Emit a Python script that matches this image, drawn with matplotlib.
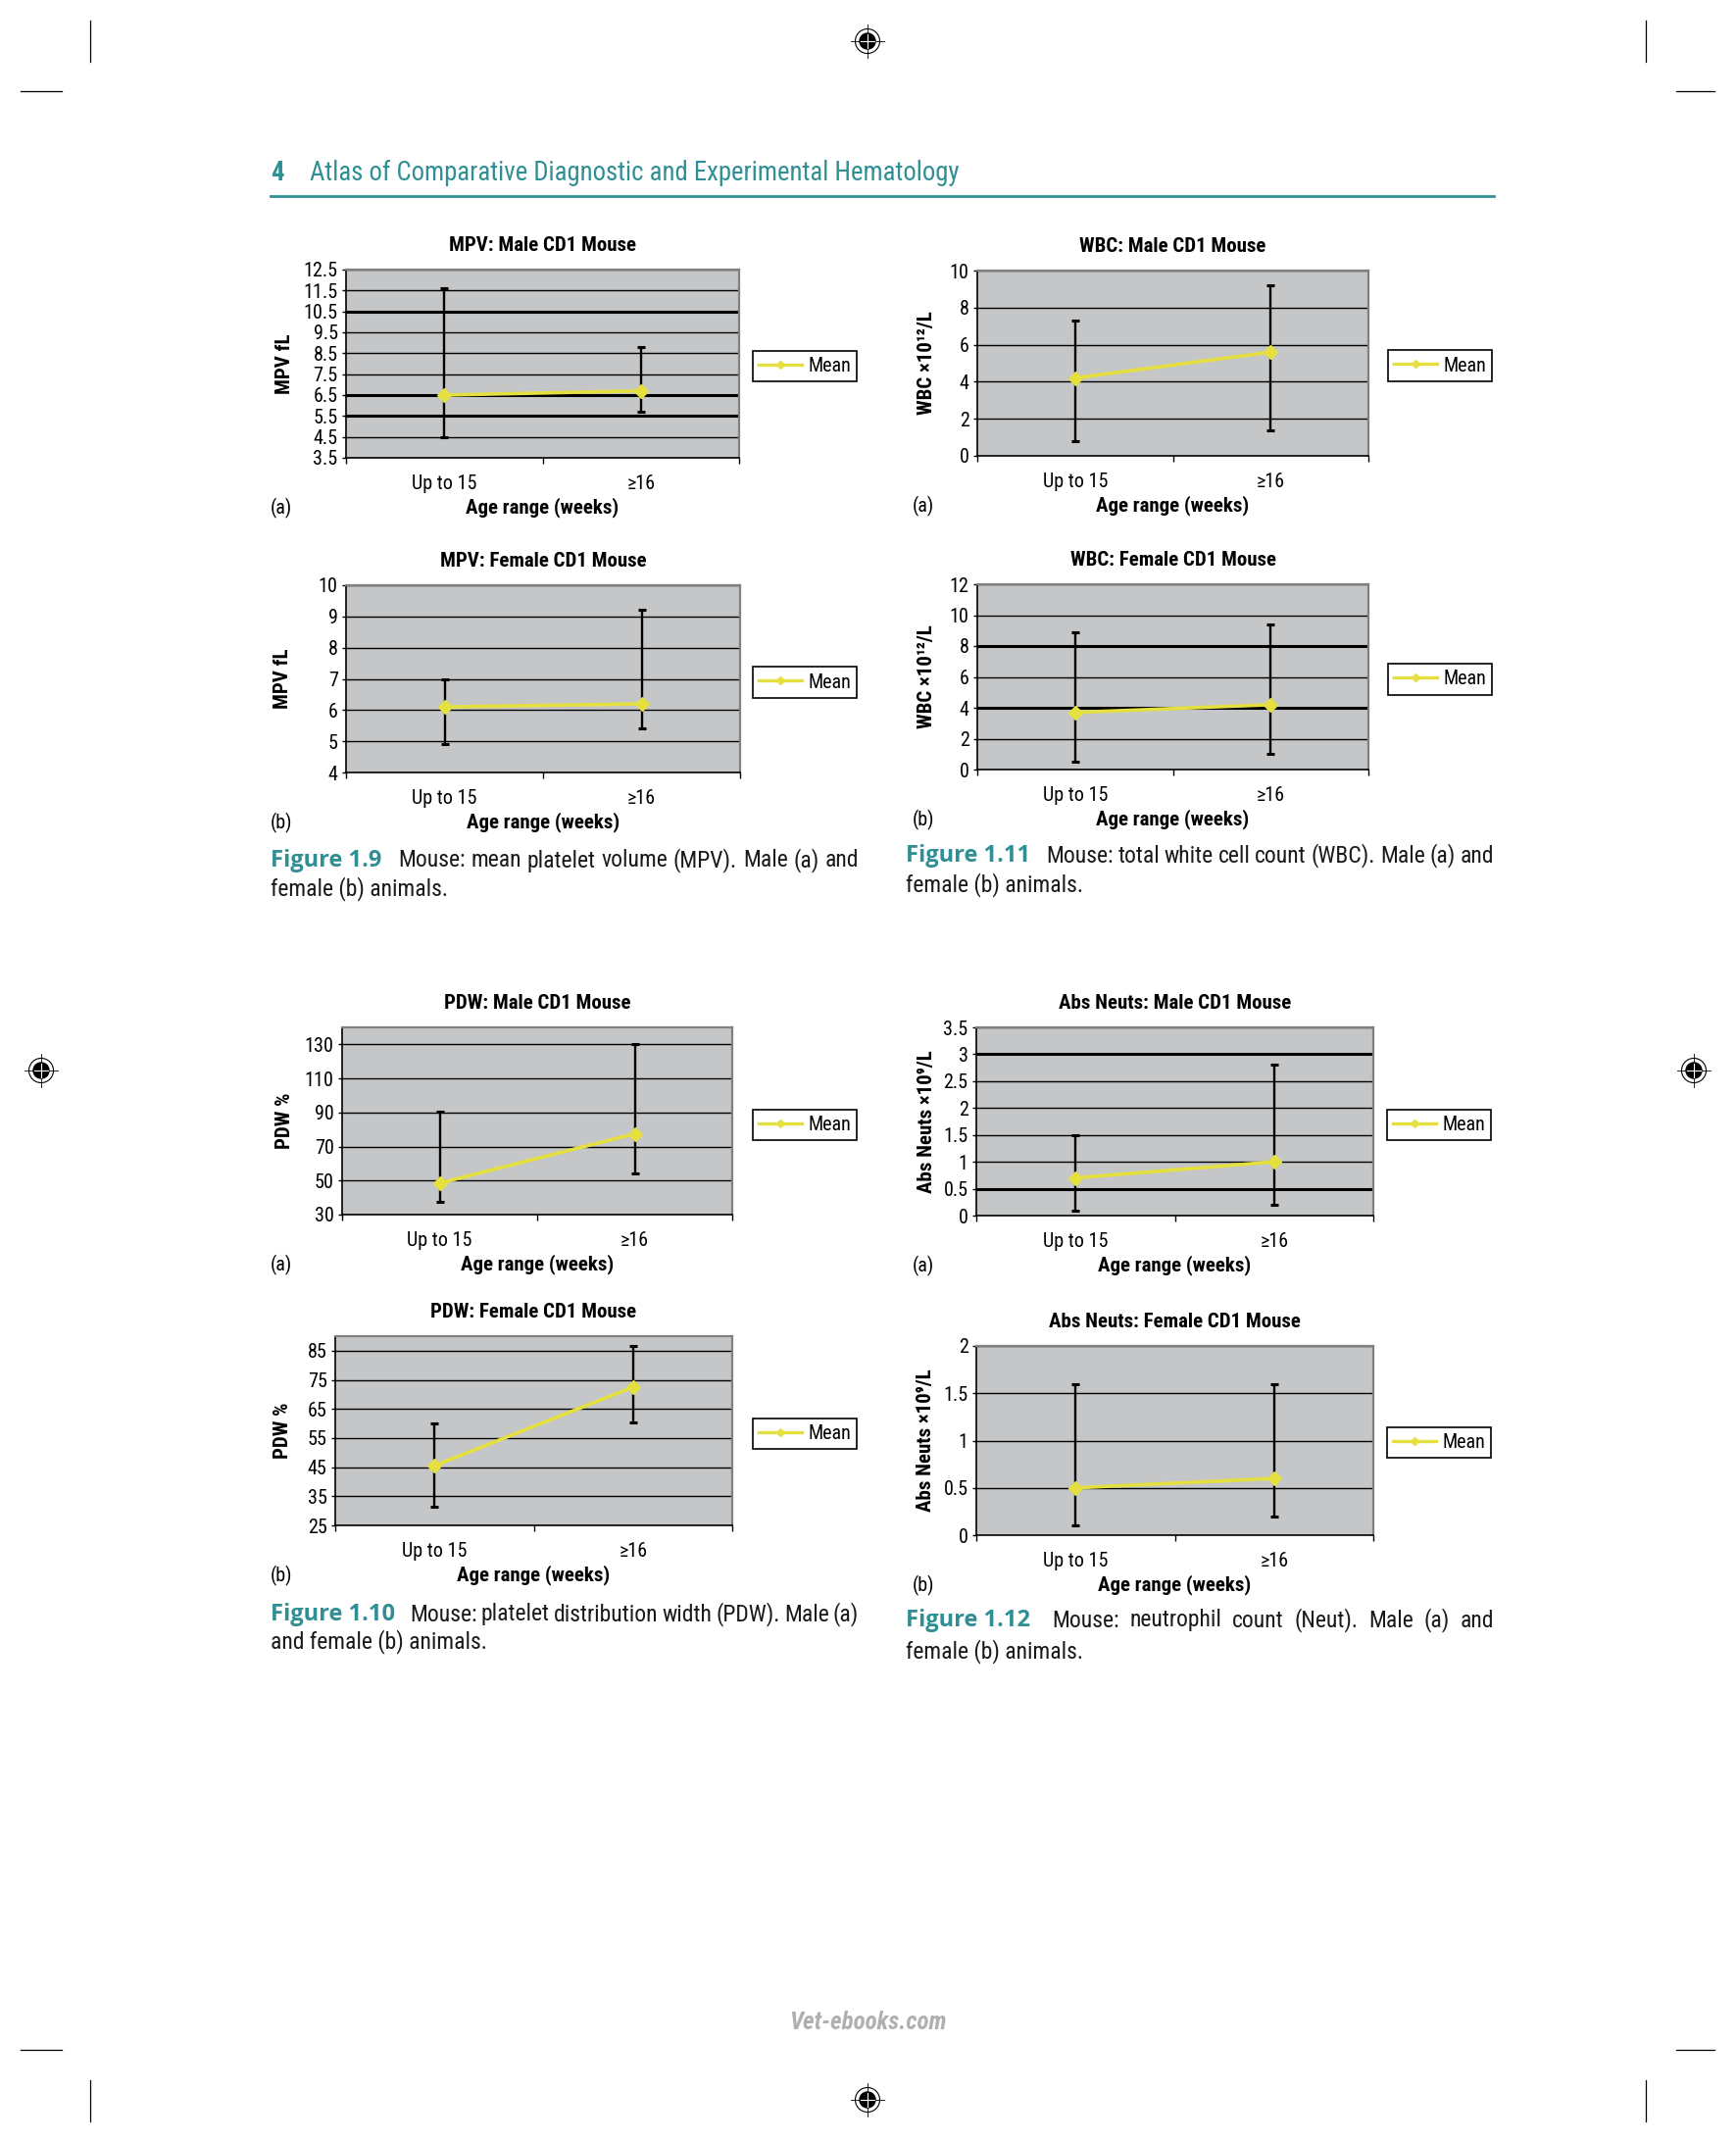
import matplotlib
matplotlib.use("Agg")
import matplotlib.pyplot as plt
from matplotlib import font_manager
from matplotlib.lines import Line2D
from matplotlib.patches import Circle
import numpy as np

W, H = 1771, 2184
DPI = 100

# the page is set in a condensed face; use one if the box has it
_names = {f.name for f in font_manager.fontManager.ttflist}
FONT = next((n for n in ["Roboto Condensed", "Liberation Sans Narrow", "DejaVu Sans Condensed",
                         "Noto Sans Condensed", "Open Sans Condensed"] if n in _names), None)
SCALE = 1.0
if FONT is None:
    FONT = "Liberation Sans"
    SCALE = 0.84
plt.rcParams["font.family"] = [FONT, "DejaVu Sans"]
NUM_FONT = ["Open Sans", FONT, "DejaVu Sans"]   # wider bold face of the figure numbers

FS = 14.5 * SCALE       # tick labels, legend, panel tags
FS_BOLD = 15 * SCALE    # chart titles and axis titles
CAP_FS = 17 * SCALE     # figure captions
HEAD_FS = 19.3 * SCALE  # running head

TEAL = "#2F8F94"
YELLOW = "#E5E040"
PLOT_BG = "#C5C6C8"
FRAME_GRAY = "#808080"

# ---- data ----
CATEGORIES = ["Up to 15", "\u226516"]

MPV_MALE_MEAN = [6.5, 6.7]
MPV_MALE_LOW = [4.5, 5.7]
MPV_MALE_HIGH = [11.6, 8.8]

MPV_FEMALE_MEAN = [6.1, 6.2]
MPV_FEMALE_LOW = [4.9, 5.4]
MPV_FEMALE_HIGH = [7.0, 9.2]

WBC_MALE_MEAN = [4.2, 5.6]
WBC_MALE_LOW = [0.8, 1.4]
WBC_MALE_HIGH = [7.3, 9.2]

WBC_FEMALE_MEAN = [3.7, 4.2]
WBC_FEMALE_LOW = [0.5, 1.0]
WBC_FEMALE_HIGH = [8.9, 9.4]

PDW_MALE_MEAN = [48.5, 77.5]
PDW_MALE_LOW = [37.5, 54.0]
PDW_MALE_HIGH = [90.5, 130.0]

PDW_FEMALE_MEAN = [45.5, 72.5]
PDW_FEMALE_LOW = [31.5, 60.5]
PDW_FEMALE_HIGH = [60.0, 86.5]

NEUT_MALE_MEAN = [0.7, 1.0]
NEUT_MALE_LOW = [0.1, 0.2]
NEUT_MALE_HIGH = [1.5, 2.8]

NEUT_FEMALE_MEAN = [0.5, 0.6]
NEUT_FEMALE_LOW = [0.1, 0.2]
NEUT_FEMALE_HIGH = [1.6, 1.6]

WBC_LABEL = "WBC \u00d710\u00b9\u00b2/L"
NEUT_LABEL = "Abs Neuts \u00d710\u2079/L"

# plot-area box in page pixels (left, top, right, bottom) and legend box
CHARTS = [
    dict(title="MPV: Male CD1 Mouse", ylabel="MPV fL", tag="(a)",
         mean=MPV_MALE_MEAN, low=MPV_MALE_LOW, high=MPV_MALE_HIGH,
         ylim=(3.5, 12.5), ticks=np.arange(3.5, 12.6, 1.0), heavy=[10.5, 6.5, 5.5],
         box=(353, 275, 754, 467), legend=(767, 358, 875, 389), ylab_x=291, tag_x=276),
    dict(title="WBC: Male CD1 Mouse", ylabel=WBC_LABEL, tag="(a)",
         mean=WBC_MALE_MEAN, low=WBC_MALE_LOW, high=WBC_MALE_HIGH,
         ylim=(0, 10), ticks=np.arange(0, 10.1, 2), heavy=[],
         box=(997, 276, 1396, 465), legend=(1416, 358, 1522, 388), ylab_x=945, tag_x=931),
    dict(title="MPV: Female CD1 Mouse", ylabel="MPV fL", tag="(b)",
         mean=MPV_FEMALE_MEAN, low=MPV_FEMALE_LOW, high=MPV_FEMALE_HIGH,
         ylim=(4, 10), ticks=np.arange(4, 10.1, 1), heavy=[],
         box=(353, 597, 755, 788), legend=(767, 680, 875, 712), ylab_x=289, tag_x=276),
    dict(title="WBC: Female CD1 Mouse", ylabel=WBC_LABEL, tag="(b)",
         mean=WBC_FEMALE_MEAN, low=WBC_FEMALE_LOW, high=WBC_FEMALE_HIGH,
         ylim=(0, 12), ticks=np.arange(0, 12.1, 2), heavy=[8, 4],
         box=(997, 596, 1396, 785), legend=(1416, 678, 1522, 708), ylab_x=945, tag_x=931),
    dict(title="PDW: Male CD1 Mouse", ylabel="PDW %", tag="(a)",
         mean=PDW_MALE_MEAN, low=PDW_MALE_LOW, high=PDW_MALE_HIGH,
         ylim=(30, 140), ticks=np.arange(30, 131, 20), heavy=[],
         box=(349, 1048, 747, 1239), legend=(767, 1132, 875, 1163), ylab_x=291, tag_x=276),
    dict(title="Abs Neuts: Male CD1 Mouse", ylabel=NEUT_LABEL, tag="(a)",
         mean=NEUT_MALE_MEAN, low=NEUT_MALE_LOW, high=NEUT_MALE_HIGH,
         ylim=(0, 3.5), ticks=np.arange(0, 3.51, 0.5), heavy=[3, 0.5],
         box=(996, 1048, 1401, 1240), legend=(1414, 1132, 1522, 1163), ylab_x=945, tag_x=931),
    dict(title="PDW: Female CD1 Mouse", ylabel="PDW %", tag="(b)",
         mean=PDW_FEMALE_MEAN, low=PDW_FEMALE_LOW, high=PDW_FEMALE_HIGH,
         ylim=(25, 90), ticks=np.arange(25, 86, 10), heavy=[],
         box=(342, 1363, 747, 1556), legend=(767, 1447, 875, 1478), ylab_x=289, tag_x=276),
    dict(title="Abs Neuts: Female CD1 Mouse", ylabel=NEUT_LABEL, tag="(b)",
         mean=NEUT_FEMALE_MEAN, low=NEUT_FEMALE_LOW, high=NEUT_FEMALE_HIGH,
         ylim=(0, 2), ticks=np.arange(0, 2.01, 0.5), heavy=[],
         box=(996, 1373, 1401, 1566), legend=(1414, 1456, 1522, 1487), ylab_x=944, tag_x=931),
]

CAPTIONS = [
    # x, y line 1, y line 2, number, rest of line 1, start / end of the justified rest, line 2
    (276, 878, 907, "Figure 1.9", "Mouse: mean platelet volume (MPV). Male (a) and", 406, 876,
     "female (b) animals."),
    (924, 873, 903, "Figure 1.11", "Mouse: total white cell count (WBC). Male (a) and", 1067, 1524,
     "female (b) animals."),
    (276, 1647, 1675, "Figure 1.10", "Mouse: platelet distribution width (PDW). Male (a)", 418, 876,
     "and female (b) animals."),
    (924, 1653, 1685, "Figure 1.12", "Mouse: neutrophil count (Neut). Male (a) and", 1073, 1524,
     "female (b) animals."),
]


def fig_rect(l, t, r, b):
    return [l / W, 1 - b / H, (r - l) / W, (b - t) / H]


def draw_target(ax, cx, cy):
    ax.add_patch(Circle((cx, cy), 12.5, fill=False, edgecolor="black", lw=0.8))
    ax.add_patch(Circle((cx, cy), 8, color="black"))
    ax.plot([cx - 17, cx + 17], [cy, cy], color="black", lw=0.6)
    ax.plot([cx, cx], [cy - 17, cy + 17], color="black", lw=0.6)
    ax.plot([cx - 7, cx + 7], [cy, cy], color="white", lw=0.8)
    ax.plot([cx, cx], [cy - 7, cy + 7], color="white", lw=0.8)


def justify(ax, renderer, words, x0, x1, y, **kw):
    texts = [ax.text(0, y, w, va="center", ha="left", **kw) for w in words]
    widths = [t.get_window_extent(renderer).width for t in texts]
    gap = (x1 - x0 - sum(widths)) / max(len(words) - 1, 1)
    x = x0
    for t, w in zip(texts, widths):
        t.set_x(x)
        x += w + gap


def draw_chart(fig, spec):
    l, t, r, b = spec["box"]
    ax = fig.add_axes(fig_rect(l, t, r, b))
    ax.set_facecolor(PLOT_BG)
    x = np.arange(len(CATEGORIES))
    mean = np.array(spec["mean"])
    yerr = [mean - np.array(spec["low"]), np.array(spec["high"]) - mean]

    for v in spec["ticks"][1:]:
        lw = 2.2 if v in spec["heavy"] else 1.0
        ax.axhline(v, color="black", lw=lw, zorder=1)

    ax.errorbar(x, mean, yerr=yerr, fmt="none", ecolor="black", elinewidth=1.7,
                capsize=3, capthick=2.2, zorder=3)
    ax.plot(x, mean, color=YELLOW, lw=2.6, marker="D", ms=7, zorder=4)

    ax.set_xlim(-0.5, 1.5)
    ax.set_ylim(*spec["ylim"])
    ax.set_yticks(spec["ticks"])
    ax.set_yticklabels([f"{v:g}" for v in spec["ticks"]])
    ax.set_xticks(x)
    ax.set_xticklabels(CATEGORIES)
    ax.set_xticks([-0.5, 0.5, 1.5], minor=True)
    ax.tick_params(axis="x", which="major", length=0, pad=12, labelsize=FS)
    ax.tick_params(axis="x", which="minor", length=4, width=1, direction="out")
    ax.tick_params(axis="y", length=3, width=1, direction="out", pad=3, labelsize=FS)

    for side in ("left", "bottom"):
        ax.spines[side].set_color("black")
        ax.spines[side].set_linewidth(1.2)
    for side in ("top", "right"):
        ax.spines[side].set_color(FRAME_GRAY)
        ax.spines[side].set_linewidth(1.6)

    ax.set_title(spec["title"], fontsize=FS_BOLD, fontweight="bold", pad=14)

    ax.set_xlabel("Age range (weeks)", fontsize=FS_BOLD, fontweight="bold")
    ax.xaxis.label.set_va("center")
    ax.xaxis.set_label_coords(0.5, -51 / (b - t))

    ax.set_ylabel(spec["ylabel"], fontsize=FS_BOLD, fontweight="bold")
    ax.yaxis.label.set_va("center")
    ax.yaxis.set_label_coords((spec["ylab_x"] - l) / (r - l), 0.5)

    ax.text((spec["tag_x"] - l) / (r - l), -51 / (b - t), spec["tag"], fontsize=FS,
            transform=ax.transAxes, ha="left", va="center")

    ll, lt, lr, lb = spec["legend"]
    handle = Line2D([], [], color=YELLOW, lw=2.4, marker="D", ms=4)
    leg = ax.legend([handle], ["Mean"], loc="center",
                    bbox_to_anchor=((ll + lr) / 2 / W, 1 - (lt + lb) / 2 / H),
                    bbox_transform=fig.transFigure, frameon=True, fancybox=False,
                    edgecolor="black", framealpha=1, fontsize=FS, borderpad=0.3,
                    handlelength=2.2, handletextpad=0.3, borderaxespad=0)
    leg.get_frame().set_linewidth(1.2)


fig = plt.figure(figsize=(W / DPI, H / DPI), dpi=DPI)
fig.patch.set_facecolor("white")
renderer = fig.canvas.get_renderer()

page = fig.add_axes([0, 0, 1, 1])
page.set_xlim(0, W)
page.set_ylim(H, 0)
page.axis("off")

# crop marks
for xv in (92, 1679):
    page.plot([xv, xv], [21, 63], color="black", lw=0.9)
    page.plot([xv, xv], [2122, 2164], color="black", lw=0.9)
for yv in (93, 2091):
    page.plot([21, 63], [yv, yv], color="black", lw=0.9)
    page.plot([1710, 1749], [yv, yv], color="black", lw=0.9)

# registration targets
for cx, cy in [(885, 42), (885, 2142), (42, 1092), (1728, 1092)]:
    draw_target(page, cx, cy)

# running head
page.text(276, 176, "4", color=TEAL, fontsize=HEAD_FS, fontweight="bold", va="center")
page.text(316, 176, "Atlas of Comparative Diagnostic and Experimental Hematology",
          color=TEAL, fontsize=HEAD_FS, va="center")
page.plot([276, 1524], [200, 200], color=TEAL, lw=2)

# captions (first line justified, like the printed page)
for cx, y1, y2, num, rest, x0, x1, line2 in CAPTIONS:
    page.text(cx, y1, num, color=TEAL, fontsize=CAP_FS, fontweight="bold", va="center",
              family=NUM_FONT)
    justify(page, renderer, rest.split(), x0, x1, y1, color="#1a1a1a", fontsize=CAP_FS)
    page.text(cx, y2, line2, color="#1a1a1a", fontsize=CAP_FS, va="center")

# watermark
page.text(885, 2063, "Vet-ebooks.com", color="#b0b0b0", fontsize=18, fontweight="bold",
          style="italic", ha="center", va="center")

for spec in CHARTS:
    draw_chart(fig, spec)

fig.savefig("out.png", dpi=DPI, facecolor="white")
